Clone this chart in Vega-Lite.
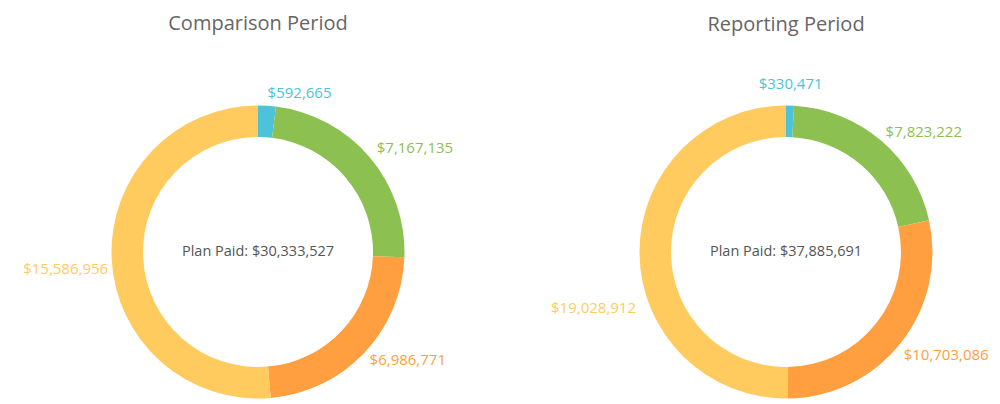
{
  "$schema": "https://vega.github.io/schema/vega-lite/v6.json",
  "padding": {"top": 14, "left": 0, "right": 0, "bottom": 0},
  "autosize": {"type": "pad"},
  "bounds": "flush",
  "spacing": 56,
  "background": "white",
  "config": {
    "view": {"stroke": null},
    "font": "Open Sans",
    "title": {"fontSize": 20, "fontWeight": "normal", "color": "#666666", "font": "Open Sans", "baseline": "alphabetic", "anchor": "middle"}
  },
  "data": {
    "values": [
      {"period": "Comparison Period", "segment": "Segment A", "rank": 1, "value": 592665},
      {"period": "Comparison Period", "segment": "Segment B", "rank": 2, "value": 7167135},
      {"period": "Comparison Period", "segment": "Segment C", "rank": 3, "value": 6986771},
      {"period": "Comparison Period", "segment": "Segment D", "rank": 4, "value": 15586956},
      {"period": "Reporting Period", "segment": "Segment A", "rank": 1, "value": 330471},
      {"period": "Reporting Period", "segment": "Segment B", "rank": 2, "value": 7823222},
      {"period": "Reporting Period", "segment": "Segment C", "rank": 3, "value": 10703086},
      {"period": "Reporting Period", "segment": "Segment D", "rank": 4, "value": 19028912}
    ]
  },
  "hconcat": [
    {
      "width": 516,
      "height": 292,
      "title": {"text": "Comparison Period", "offset": 52},
      "transform": [
        {"filter": "datum.period == 'Comparison Period'"},
        {"stack": "value", "groupby": [], "sort": [{"field": "rank", "order": "ascending"}], "as": ["v0", "v1"]},
        {"calculate": "(datum.v0 + datum.v1) / 2", "as": "mid"},
        {"joinaggregate": [{"op": "sum", "field": "value", "as": "total"}]},
        {"calculate": "'Plan Paid: ' + format(datum.total, '$,.0f')", "as": "centerLabel"}
      ],
      "layer": [
        {
          "mark": {"type": "arc", "innerRadius": 115, "outerRadius": 146.5},
          "encoding": {
            "theta": {"field": "v1", "type": "quantitative", "scale": {"nice": false, "zero": true}},
            "theta2": {"field": "v0"},
            "color": {"field": "segment", "type": "nominal", "legend": null,
              "scale": {"domain": ["Segment A", "Segment B", "Segment C", "Segment D"], "range": ["#4cc3d9", "#8cc152", "#ff9f3f", "#ffcb5e"]}}
          }
        },
        {
          "transform": [{"filter": {"field": "segment", "oneOf": ["Segment A", "Segment B"]}}],
          "mark": {"type": "text", "radius": 156, "align": "left", "baseline": "middle", "fontSize": 15, "dy": -3},
          "encoding": {
            "theta": {"field": "mid", "type": "quantitative"},
            "text": {"field": "value", "type": "quantitative", "format": "$,.0f"},
            "color": {"field": "segment", "type": "nominal", "legend": null}
          }
        },
        {
          "transform": [{"filter": {"field": "segment", "equal": "Segment C"}}],
          "mark": {"type": "text", "radius": 154, "align": "left", "baseline": "middle", "fontSize": 15, "dy": 2},
          "encoding": {
            "theta": {"field": "mid", "type": "quantitative"},
            "text": {"field": "value", "type": "quantitative", "format": "$,.0f"},
            "color": {"field": "segment", "type": "nominal", "legend": null}
          }
        },
        {
          "transform": [{"filter": {"field": "segment", "equal": "Segment D"}}],
          "mark": {"type": "text", "radius": 150, "align": "right", "baseline": "middle", "fontSize": 15, "dy": 10},
          "encoding": {
            "theta": {"field": "mid", "type": "quantitative"},
            "text": {"field": "value", "type": "quantitative", "format": "$,.0f"},
            "color": {"field": "segment", "type": "nominal", "legend": null}
          }
        },
        {
          "transform": [{"filter": {"field": "segment", "equal": "Segment D"}}],
          "mark": {"type": "text", "align": "center", "baseline": "middle", "fontSize": 14.5, "color": "#555555"},
          "encoding": {
            "text": {"field": "centerLabel", "type": "nominal"}
          }
        }
      ]
    },
    {
      "width": 428,
      "height": 292,
      "title": {"text": "Reporting Period", "offset": 42},
      "transform": [
        {"filter": "datum.period == 'Reporting Period'"},
        {"stack": "value", "groupby": [], "sort": [{"field": "rank", "order": "ascending"}], "as": ["v0", "v1"]},
        {"calculate": "(datum.v0 + datum.v1) / 2", "as": "mid"},
        {"joinaggregate": [{"op": "sum", "field": "value", "as": "total"}]},
        {"calculate": "'Plan Paid: ' + format(datum.total, '$,.0f')", "as": "centerLabel"}
      ],
      "layer": [
        {
          "mark": {"type": "arc", "innerRadius": 115, "outerRadius": 146.5},
          "encoding": {
            "theta": {"field": "v1", "type": "quantitative", "scale": {"nice": false, "zero": true}},
            "theta2": {"field": "v0"},
            "color": {"field": "segment", "type": "nominal", "legend": null,
              "scale": {"domain": ["Segment A", "Segment B", "Segment C", "Segment D"], "range": ["#4cc3d9", "#8cc152", "#ff9f3f", "#ffcb5e"]}}
          }
        },
        {
          "transform": [{"filter": {"field": "segment", "equal": "Segment A"}}],
          "mark": {"type": "text", "radius": 168, "align": "center", "baseline": "middle", "fontSize": 15},
          "encoding": {
            "theta": {"field": "mid", "type": "quantitative"},
            "text": {"field": "value", "type": "quantitative", "format": "$,.0f"},
            "color": {"field": "segment", "type": "nominal", "legend": null}
          }
        },
        {
          "transform": [{"filter": {"field": "segment", "equal": "Segment B"}}],
          "mark": {"type": "text", "radius": 154, "align": "left", "baseline": "middle", "fontSize": 15, "dy": -3},
          "encoding": {
            "theta": {"field": "mid", "type": "quantitative"},
            "text": {"field": "value", "type": "quantitative", "format": "$,.0f"},
            "color": {"field": "segment", "type": "nominal", "legend": null}
          }
        },
        {
          "transform": [{"filter": {"field": "segment", "equal": "Segment C"}}],
          "mark": {"type": "text", "radius": 150, "align": "left", "baseline": "middle", "fontSize": 15, "dy": 10},
          "encoding": {
            "theta": {"field": "mid", "type": "quantitative"},
            "text": {"field": "value", "type": "quantitative", "format": "$,.0f"},
            "color": {"field": "segment", "type": "nominal", "legend": null}
          }
        },
        {
          "transform": [{"filter": {"field": "segment", "equal": "Segment D"}}],
          "mark": {"type": "text", "radius": 150, "align": "right", "baseline": "middle", "fontSize": 15, "dy": 55},
          "encoding": {
            "theta": {"field": "mid", "type": "quantitative"},
            "text": {"field": "value", "type": "quantitative", "format": "$,.0f"},
            "color": {"field": "segment", "type": "nominal", "legend": null}
          }
        },
        {
          "transform": [{"filter": {"field": "segment", "equal": "Segment D"}}],
          "mark": {"type": "text", "align": "center", "baseline": "middle", "fontSize": 14.5, "color": "#555555"},
          "encoding": {
            "text": {"field": "centerLabel", "type": "nominal"}
          }
        }
      ]
    }
  ]
}
